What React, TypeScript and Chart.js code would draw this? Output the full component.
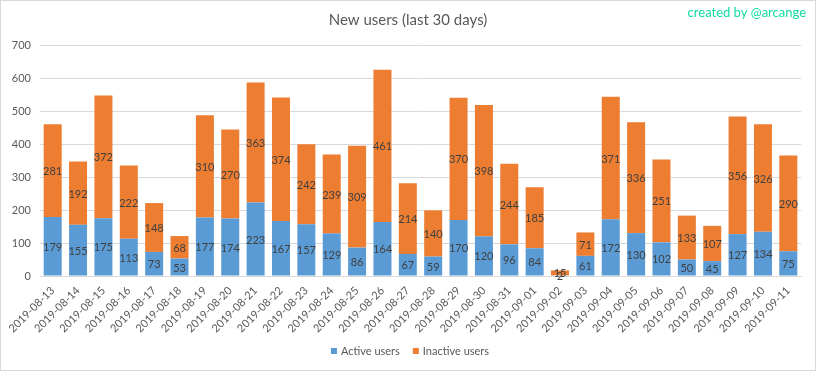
import React, { useEffect, useRef } from "react";
import { Chart, registerables } from "chart.js";

Chart.register(...registerables);

const dates = [
  "2019-08-13", "2019-08-14", "2019-08-15", "2019-08-16", "2019-08-17", "2019-08-18",
  "2019-08-19", "2019-08-20", "2019-08-21", "2019-08-22", "2019-08-23", "2019-08-24",
  "2019-08-25", "2019-08-26", "2019-08-27", "2019-08-28", "2019-08-29", "2019-08-30",
  "2019-08-31", "2019-09-01", "2019-09-02", "2019-09-03", "2019-09-04", "2019-09-05",
  "2019-09-06", "2019-09-07", "2019-09-08", "2019-09-09", "2019-09-10", "2019-09-11",
];
const activeUsers = [
  179, 155, 175, 113, 73, 53, 177, 174, 223, 167, 157, 129, 86, 164, 67, 59, 170, 120,
  96, 84, 2, 61, 172, 130, 102, 50, 45, 127, 134, 75,
];
const inactiveUsers = [
  281, 192, 372, 222, 148, 68, 310, 270, 363, 374, 242, 239, 309, 461, 214, 140, 370, 398,
  244, 185, 15, 71, 371, 336, 251, 133, 107, 356, 326, 290,
];
const seriesNames = ["Active users", "Inactive users"];
const chartTitle = "New users (last 30 days)";
const creditText = "created by @arcange";

const FONT = "Lato, 'Open Sans', sans-serif";
const BLUE = "#5b9bd5";
const ORANGE = "#ed7d31";

const decorPlugin = {
  id: "decor",
  afterDatasetsDraw(chart: any) {
    const ctx = chart.ctx;
    ctx.save();
    ctx.font = `11px ${FONT}`;
    ctx.fillStyle = "#404040";
    ctx.textAlign = "center";
    ctx.textBaseline = "middle";
    chart.data.datasets.forEach((ds: any, i: number) => {
      const meta = chart.getDatasetMeta(i);
      meta.data.forEach((el: any, j: number) => {
        const v = ds.data[j];
        const y = (el.y + el.base) / 2;
        ctx.fillText(String(v), el.x, y + 1);
      });
    });
    ctx.restore();
  },
  afterDraw(chart: any) {
    const ctx = chart.ctx;
    ctx.save();
    ctx.textBaseline = "middle";
    ctx.font = `15px ${FONT}`;
    ctx.fillStyle = "#595959";
    ctx.textAlign = "center";
    ctx.fillText(chartTitle, 408, 20);
    ctx.font = `13px ${FONT}`;
    ctx.fillStyle = "#12dca2";
    ctx.textAlign = "right";
    ctx.fillText(creditText, 806, 13);
    // legend
    ctx.font = `11px ${FONT}`;
    ctx.textAlign = "left";
    const items = [
      { t: seriesNames[0], c: BLUE },
      { t: seriesNames[1], c: ORANGE },
    ];
    const widths = items.map((it) => ctx.measureText(it.t).width);
    const box = 6;
    const gap = 4;
    const between = 13;
    const total = widths.reduce((a, w) => a + box + gap + w, 0) + between;
    let x = 410 - total / 2;
    const y = 351;
    items.forEach((it, i) => {
      ctx.fillStyle = it.c;
      ctx.fillRect(x, y - box / 2, box, box);
      ctx.fillStyle = "#595959";
      ctx.fillText(it.t, x + box + gap, y);
      x += box + gap + widths[i] + between;
    });
    ctx.restore();
  },
};

export default function App() {
  const ref = useRef<HTMLCanvasElement>(null);
  useEffect(() => {
    document.body.style.margin = "0";
    const chart = new Chart(ref.current!, {
      type: "bar",
      data: {
        labels: dates,
        datasets: [
          { label: seriesNames[0], data: activeUsers, backgroundColor: BLUE, categoryPercentage: 0.71, barPercentage: 1 },
          { label: seriesNames[1], data: inactiveUsers, backgroundColor: ORANGE, categoryPercentage: 0.71, barPercentage: 1 },
        ],
      },
      options: {
        animation: false,
        responsive: false,
        maintainAspectRatio: false,
        layout: { padding: { top: 45, right: 15, bottom: 0, left: 0 } },
        plugins: { legend: { display: false }, title: { display: false }, tooltip: { enabled: false } },
        scales: {
          x: {
            stacked: true,
            grid: { display: false, drawTicks: false },
            border: { display: true, color: "#d9d9d9" },
            ticks: {
              minRotation: 45,
              maxRotation: 45,
              autoSkip: false,
              padding: 8,
              color: "#595959",
              font: { family: FONT, size: 11 },
            },
            afterFit(scale: any) {
              scale.height = 95;
            },
          },
          y: {
            stacked: true,
            min: 0,
            max: 700,
            grid: { color: "#d9d9d9", drawTicks: false },
            border: { display: false },
            ticks: {
              stepSize: 100,
              padding: 9,
              color: "#595959",
              font: { family: FONT, size: 11 },
            },
            afterFit(scale: any) {
              scale.width = 40;
            },
          },
        },
      },
      plugins: [decorPlugin],
    });
    return () => chart.destroy();
  }, []);
  return (
    <div style={{ width: 816, height: 371, position: "relative", boxSizing: "border-box" }}>
      <canvas ref={ref} width={816} height={371} style={{ display: "block" }} />
      <div style={{ position: "absolute", inset: 0, border: "1px solid #d9d9d9", pointerEvents: "none" }} />
    </div>
  );
}
